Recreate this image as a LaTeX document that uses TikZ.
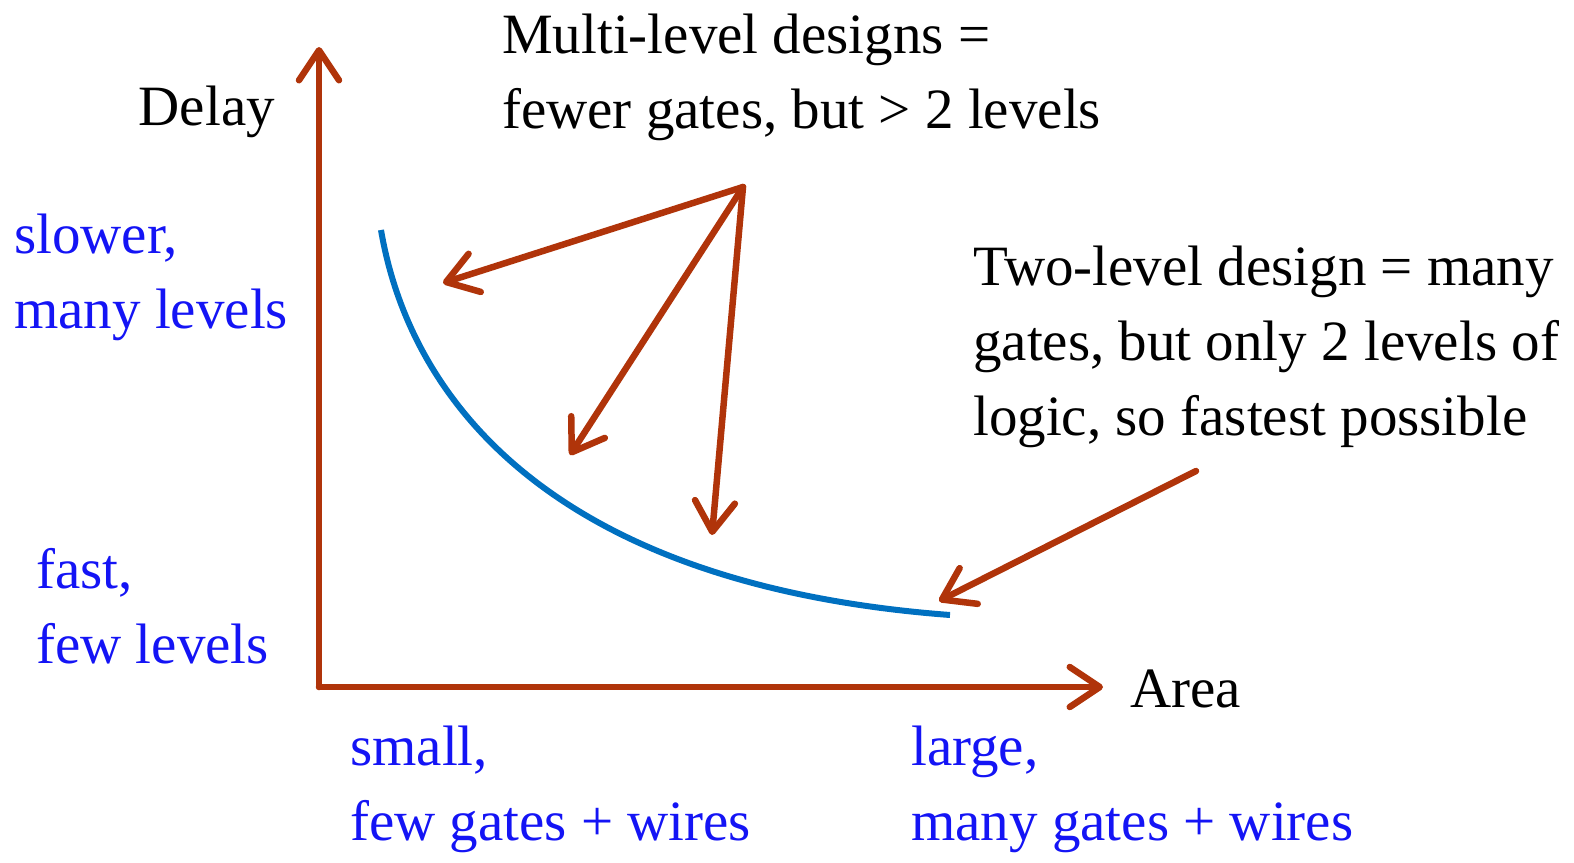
\documentclass[tikz,border=0pt]{standalone}
\usepackage{fontspec}
\setmainfont{Liberation Serif}
\usetikzlibrary{arrows.meta}
\definecolor{rust}{RGB}{176,52,10}
\definecolor{curveblue}{RGB}{0,112,192}
\definecolor{txtblue}{RGB}{20,20,245}
\tikzset{
  axis/.style={draw=rust, line width=6.5pt, line cap=round, -{Straight Barb[length=30pt,width=40pt,line cap=round,line join=round]}},
  pointer/.style={draw=rust, line width=6.5pt, line cap=round, -{Straight Barb[length=30pt,width=40pt,line cap=round,line join=round]}},
  lbl/.style={anchor=base west, align=left, inner sep=0pt, font=\fontsize{57}{75}\selectfont},
  blbl/.style={lbl, text=txtblue},
}
\begin{document}
\begin{tikzpicture}[x=1pt,y=-1pt]
\useasboundingbox (0,0) rectangle (1574,862);
\coordinate (origin) at (319,687);
\coordinate (ytop) at (319,47);
\coordinate (xend) at (1103,687);
\draw[axis] (origin) -- (ytop);
\draw[axis] (origin) -- (xend);
\coordinate (c0) at (381,230);
\coordinate (c3) at (950,615);
\draw[curveblue, line width=6pt] (c0) .. controls (410,400) and (552,585) .. (c3);
\coordinate (src) at (743,187);
\coordinate (t1) at (443,283);
\coordinate (t2) at (570,455);
\coordinate (t3) at (712,535);
\coordinate (src2) at (1196,471);
\coordinate (t4) at (939,601);
\draw[pointer] (src) -- (t1);
\draw[pointer] (src) -- (t2);
\draw[pointer] (src) -- (t3);
\draw[pointer] (src2) -- (t4);
\node[lbl] (multi) at (502,128) {Multi-level designs =\\fewer gates, but > 2 levels};
\node[lbl, anchor=base east] (delay) at (275,125) {Delay};
\node[blbl] (slow) at (14,328) {slower,\\many levels};
\node[lbl] (two) at (973,435) {Two-level design = many\\gates, but only 2 levels of\\logic, so fastest possible};
\node[blbl] (fast) at (36,663) {fast,\\few levels};
\node[lbl] (area) at (1130,707) {Area};
\node[blbl] (small) at (350,840) {small,\\few gates + wires};
\node[blbl] (large) at (911,840) {large,\\many gates + wires};
\end{tikzpicture}
\end{document}
